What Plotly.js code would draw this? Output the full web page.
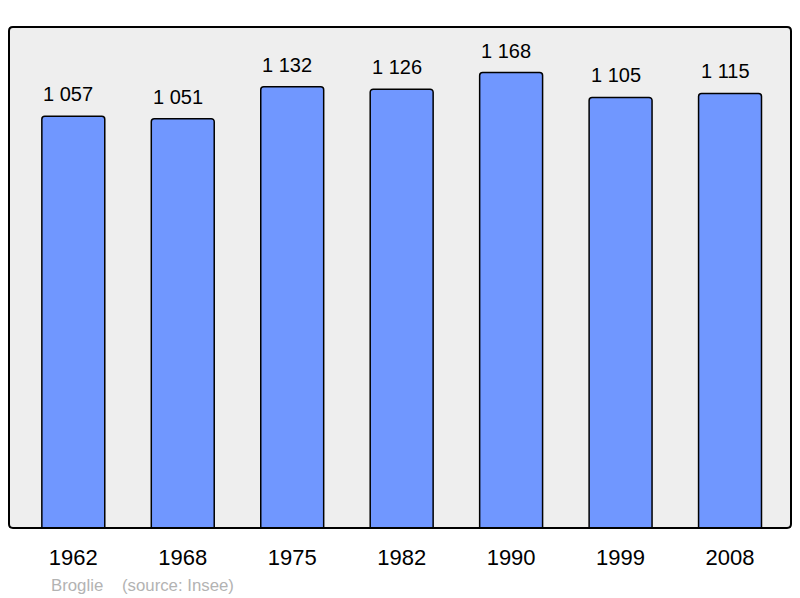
<!DOCTYPE html>
<html>
<head>
<meta charset="utf-8">
<script src="https://cdn.plot.ly/plotly-3.0.1.min.js"></script>
<style>html,body{margin:0;padding:0;background:#fff;}#chart{width:800px;height:598px;}</style>
</head>
<body>
<div id="chart"></div>
<script>
var years = ["1962", "1968", "1975", "1982", "1990", "1999", "2008"];
var population = [1057, 1051, 1132, 1126, 1168, 1105, 1115];
var valueLabels = ["1 057", "1 051", "1 132", "1 126", "1 168", "1 105", "1 115"];
var commune = "Broglie";
var sourceText = "(source: Insee)";

var FONT = "Liberation Sans, Arial, sans-serif";

var trace = {
  type: "bar",
  x: years,
  y: population,
  width: 0.575,
  marker: { color: "#7097ff", line: { color: "#000000", width: 1.5 }, cornerradius: 3 },
  hoverinfo: "none"
};

var annotations = years.map(function (yr, i) {
  return {
    x: i, y: population[i], xref: "x", yref: "y",
    text: valueLabels[i], showarrow: false,
    yanchor: "middle", xanchor: "center", yshift: 22, xshift: -5,
    font: { family: FONT, size: 20, color: "#000000" }
  };
});
annotations.push({
  xref: "paper", yref: "paper", x: (49 - 9) / 782, y: (528 - 585) / 501,
  xanchor: "left", yanchor: "middle", showarrow: false, text: commune,
  font: { family: FONT, size: 16.8, color: "#b3b3b3" }
});
annotations.push({
  xref: "paper", yref: "paper", x: (120 - 9) / 782, y: (528 - 585) / 501,
  xanchor: "left", yanchor: "middle", showarrow: false, text: sourceText,
  font: { family: FONT, size: 16.8, color: "#b3b3b3" }
});

var r = 0.005, ry = r * 782 / 501;
var framePath = "M " + r + " 0 L " + (1 - r) + " 0 Q 1 0 1 " + ry +
  " L 1 " + (1 - ry) + " Q 1 1 " + (1 - r) + " 1 L " + r + " 1 Q 0 1 0 " + (1 - ry) +
  " L 0 " + ry + " Q 0 0 " + r + " 0 Z";

var layout = {
  width: 800, height: 598,
  margin: { l: 9, r: 9, t: 27, b: 70, pad: 0 },
  paper_bgcolor: "#ffffff",
  plot_bgcolor: "#eeeeee",
  showlegend: false,
  font: { family: FONT },
  xaxis: {
    type: "category",
    range: [-0.5875, 6.557],
    showgrid: false, zeroline: false, showline: false,
    ticks: "", ticklabelstandoff: 14,
    tickfont: { family: FONT, size: 22, color: "#000000" },
    fixedrange: true
  },
  yaxis: {
    range: [10, 1284],
    showgrid: false, zeroline: false, showline: false,
    showticklabels: false, ticks: "",
    fixedrange: true
  },
  shapes: [{
    type: "path", xref: "paper", yref: "paper", path: framePath,
    line: { color: "#000000", width: 2 }, fillcolor: "rgba(0,0,0,0)", layer: "above"
  }],
  annotations: annotations
};

Plotly.newPlot("chart", [trace], layout, { displayModeBar: false, staticPlot: true });
</script>
</body>
</html>
